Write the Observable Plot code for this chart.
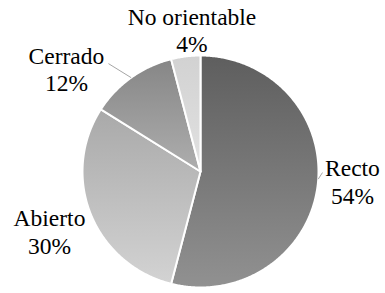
<!DOCTYPE html>
<html><head><meta charset="utf-8">
<script src="https://cdn.jsdelivr.net/npm/d3@7"></script>
<script src="https://cdn.jsdelivr.net/npm/@observablehq/plot@0.6"></script>
<style>html,body{margin:0;padding:0;background:#fff}
#chart svg text, #chart svg tspan{font-family:"Liberation Serif","Times New Roman",serif !important;}</style>
</head><body><div id="chart"></div>
<script>
// ---- data ----
const categories = ["Recto", "Abierto", "Cerrado", "No orientable"];
const values = [54, 30, 12, 4];
const percentLabels = ["54%", "30%", "12%", "4%"];

// ---- styling / layout (not data) ----
const gradientStops = [["#5e5e5e", "#919191"], ["#a9a9a9", "#d3d3d3"], ["#868686", "#aeaeae"], ["#d2d2d2", "#e1e1e1"]];
const labelRadius = 1.3;
const labelNudge = [[-0.002, 0.08], [-0.071, -0.035], [-0.372, -0.165], [0.091, -0.067]];
const leaders = [
  {i: 2, angleOffset: 0, end: [-0.78, 0.93]},
  {i: 0, angleOffset: -0.06, end: [1.034, -0.009]}
];

const arcs = d3.pie().sort(null).value(d => d)(values);
const step = Math.PI / 360;
const slicePts = arcs.map((a, i) => {
  const pts = [{x: 0, y: 0}];
  const n = Math.max(2, Math.ceil((a.endAngle - a.startAngle) / step));
  for (let k = 0; k <= n; k++) {
    const t = a.startAngle + (a.endAngle - a.startAngle) * k / n;
    pts.push({x: Math.sin(t), y: Math.cos(t)});
  }
  pts.push({x: 0, y: 0});
  return pts;
});

const labels = arcs.map((a, i) => {
  const m = (a.startAngle + a.endAngle) / 2;
  return {
    t: categories[i] + "\n" + percentLabels[i],
    x: labelRadius * Math.sin(m) + labelNudge[i][0],
    y: labelRadius * Math.cos(m) + labelNudge[i][1]
  };
});

const leaderLinks = leaders.map(l => {
  const a = arcs[l.i];
  const m = (a.startAngle + a.endAngle) / 2 + l.angleOffset;
  return {x1: Math.sin(m), y1: Math.cos(m), x2: l.end[0], y2: l.end[1]};
});

const marks = slicePts.map((pts, i) => Plot.line(pts, {
  x: "x", y: "y", curve: "linear-closed",
  fill: `url(#sliceGrad${i})`, stroke: "#fff", strokeWidth: 2, strokeLinejoin: "round"
}));
marks.push(Plot.link(leaderLinks, {x1: "x1", y1: "y1", x2: "x2", y2: "y2", stroke: "#a6a6a6", strokeWidth: 1}));
marks.push(Plot.text(labels, {
  x: "x", y: "y", text: "t", fill: "#000",
  fontFamily: "Liberation Serif", fontSize: 23.5, lineHeight: 1.17,
  textAnchor: "middle", lineAnchor: "middle"
}));

const svg = Plot.plot({
  width: 385, height: 293,
  margin: 0,
  x: {domain: [-1, 1], range: [82, 318], axis: null},
  y: {domain: [-1, 1], range: [287, 55], axis: null},
  marks
});

const ns = "http://www.w3.org/2000/svg";
const defs = document.createElementNS(ns, "defs");
gradientStops.forEach((s, i) => {
  const g = document.createElementNS(ns, "linearGradient");
  g.setAttribute("id", `sliceGrad${i}`);
  g.setAttribute("x1", "0"); g.setAttribute("y1", "0");
  g.setAttribute("x2", "0"); g.setAttribute("y2", "1");
  s.forEach((c, j) => {
    const st = document.createElementNS(ns, "stop");
    st.setAttribute("offset", j === 0 ? "0" : "1");
    st.setAttribute("stop-color", c);
    g.appendChild(st);
  });
  defs.appendChild(g);
});
svg.insertBefore(defs, svg.firstChild);
document.getElementById("chart").appendChild(svg);
</script>
</body></html>
